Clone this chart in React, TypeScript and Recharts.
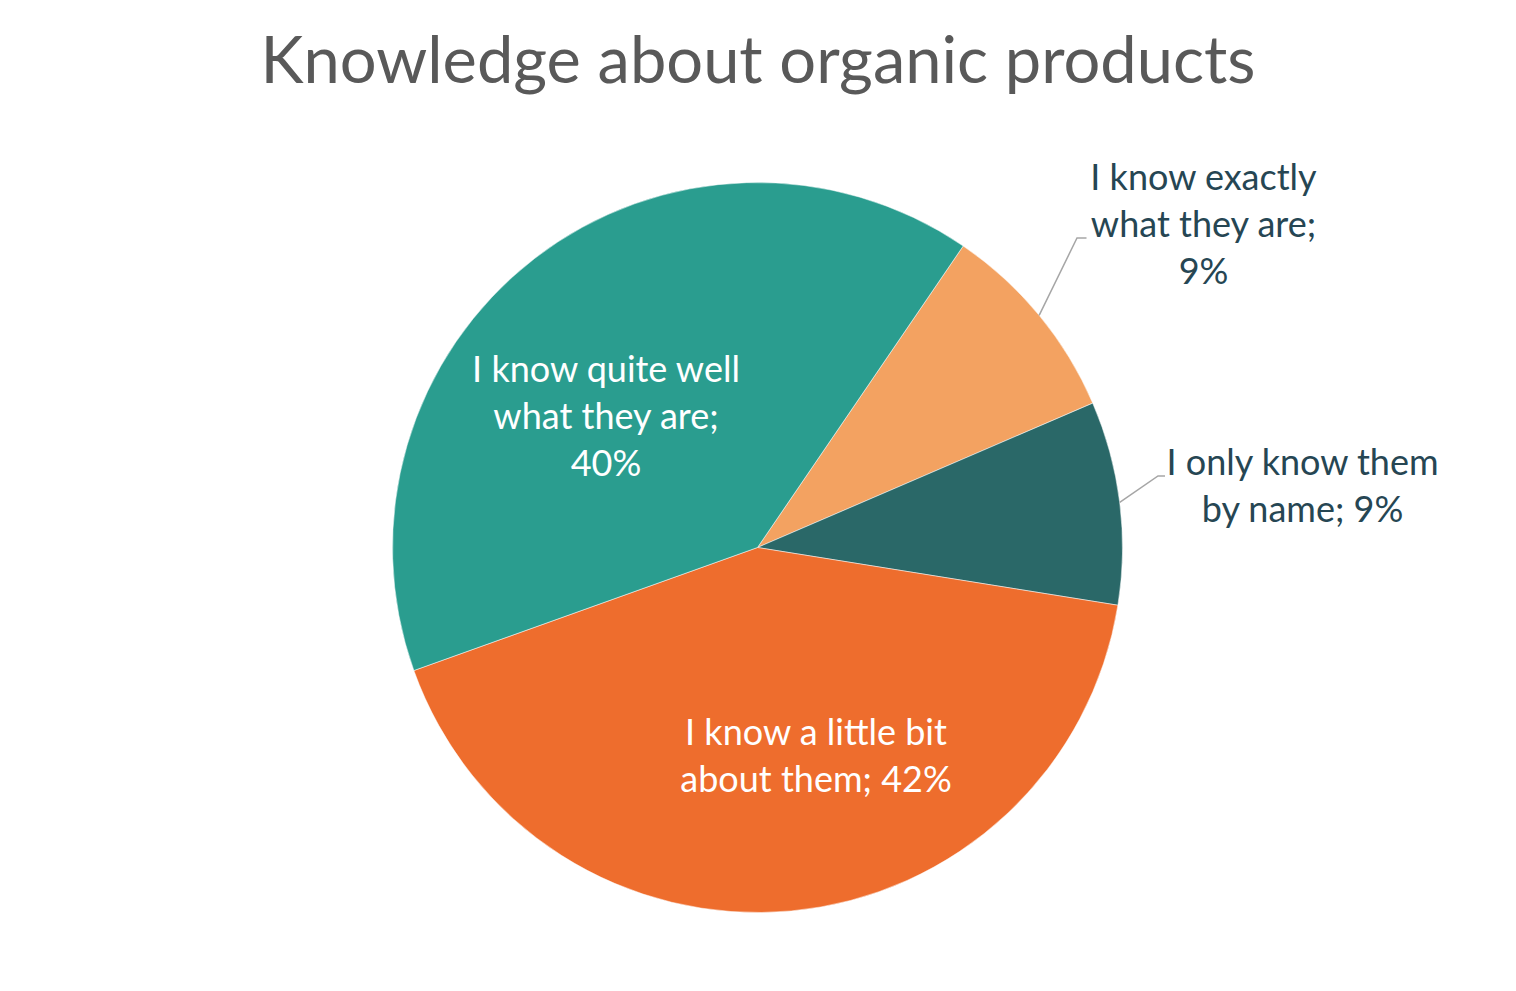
import { PieChart, Pie, Cell } from "recharts";

// 차트 크기 및 공통 설정
const CHART_WIDTH = 1500;
const CHART_HEIGHT = 975;
const FONT = "Lato, 'Noto Sans', sans-serif";

// 데이터
const categories = [
  "I know exactly what they are",
  "I only know them by name",
  "I know a little bit about them",
  "I know quite well what they are",
];
const values = [9, 9, 42, 40];
const colors = ["#F3A261", "#2A6868", "#EE6D2D", "#2A9D8F"];

// 라벨 줄바꿈 (마지막 값은 values에서 붙임)
const labelLines = [
  ["I know exactly", "what they are;", "{v}"],
  ["I only know them", "by name; {v}"],
  ["I know a little bit", "about them; {v}"],
  ["I know quite well", "what they are;", "{v}"],
];

const data = categories.map((name, i) => ({ name, value: values[i] }));

// 라벨 위치: 중심 기준 오프셋 (첫 줄 baseline), 바깥 라벨은 꺾은선 포함
const labelPos = [
  { dx: 446, dy: -357.5, outside: true, elbow: [319.5, -309.5], end: [329, -309.5] },
  { dx: 545, dy: -72.5, outside: true, elbow: [400.5, -71.5], end: [407.5, -71.5] },
  { dx: 58.5, dy: 197.5, outside: false },
  { dx: -151.5, dy: -165.5, outside: false },
];

const LINE_HEIGHT = 47;
const RADIAN = Math.PI / 180;

function renderLabel(props: any) {
  const { cx, cy, midAngle, outerRadius, index, value } = props;
  const pos = labelPos[index];
  const lines = labelLines[index].map((l) => l.replace("{v}", `${value}%`));
  let leader = null;
  if (pos.outside) {
    const sx = cx + outerRadius * Math.cos(-midAngle * RADIAN);
    const sy = cy + outerRadius * Math.sin(-midAngle * RADIAN);
    leader = (
      <path
        d={`M${sx},${sy}L${cx + pos.elbow![0]},${cy + pos.elbow![1]}L${cx + pos.end![0]},${cy + pos.end![1]}`}
        stroke="#A6A6A6"
        strokeWidth={1.5}
        fill="none"
      />
    );
  }
  return (
    <g>
      {leader}
      <text
        x={cx + pos.dx}
        y={cy + pos.dy}
        textAnchor="middle"
        fill={pos.outside ? "#264653" : "#FFFFFF"}
        fontSize={36}
        fontFamily={FONT}
      >
        {lines.map((l, i) => (
          <tspan key={i} x={cx + pos.dx} dy={i === 0 ? 0 : LINE_HEIGHT}>
            {l}
          </tspan>
        ))}
      </text>
    </g>
  );
}

export default function App() {
  return (
    <div style={{ position: "relative", width: CHART_WIDTH, height: CHART_HEIGHT, background: "#fff" }}>
      <div
        style={{
          position: "absolute",
          top: 10,
          left: 0,
          width: CHART_WIDTH,
          textAlign: "center",
          fontFamily: FONT,
          fontSize: 65,
          color: "#595959",
          lineHeight: "80px",
        }}
      >
        Knowledge about organic products
      </div>
      <PieChart width={CHART_WIDTH} height={CHART_HEIGHT} margin={{ top: 0, right: 0, bottom: 0, left: 0 }}>
        <Pie
          data={data}
          dataKey="value"
          nameKey="name"
          cx={749.5}
          cy={539.5}
          outerRadius={365}
          startAngle={55.7}
          endAngle={-304.3}
          stroke="#FFFFFF"
          strokeWidth={0.5}
          label={renderLabel}
          labelLine={false}
          isAnimationActive={false}
        >
          {data.map((d, i) => (
            <Cell key={d.name} fill={colors[i]} />
          ))}
        </Pie>
      </PieChart>
    </div>
  );
}
